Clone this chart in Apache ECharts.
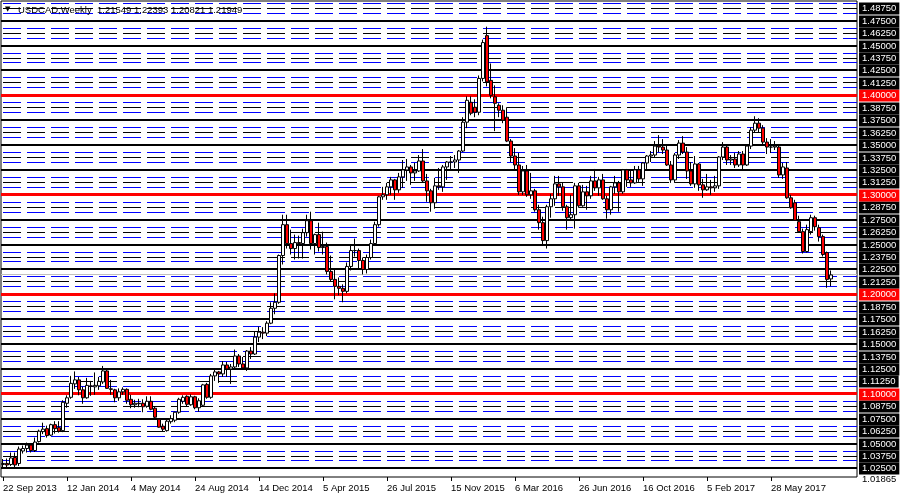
<!DOCTYPE html>
<html><head><meta charset="utf-8">
<script src="https://cdn.jsdelivr.net/npm/echarts@6/dist/echarts.min.js"></script>
<style>html,body{margin:0;padding:0;background:#fff}#c{width:900px;height:500px}</style>
</head><body><div id="c"></div>
<script>
// ---------- data ----------
const startDate = [2013, 8, 22]; // first weekly bar (Sunday)
const futureSlots = 6;           // empty chart-shift area on the right
const tickLabels = ['22 Sep 2013','12 Jan 2014','4 May 2014','24 Aug 2014','14 Dec 2014','5 Apr 2015','26 Jul 2015','15 Nov 2015','6 Mar 2016','26 Jun 2016','16 Oct 2016','5 Feb 2017','28 May 2017'];
const tickEvery = 16;

const open = [1.0290,1.0300,1.0290,1.0360,1.0300,1.0425,1.0450,1.0485,1.0430,1.0520,
1.0620,1.0650,1.0585,1.0690,1.0660,1.0630,1.0905,1.0965,1.1100,1.1140,
1.1040,1.0960,1.1080,1.1070,1.1080,1.1120,1.1230,1.1050,1.1040,1.0960,
1.1020,1.1045,1.0945,1.0890,1.0905,1.0905,1.0875,1.0925,1.0855,1.0745,
1.0675,1.0630,1.0720,1.0735,1.0815,1.0925,1.0975,1.0890,1.0970,1.0860,
1.0885,1.1095,1.0965,1.1180,1.1220,1.1200,1.1290,1.1250,1.1270,1.1380,
1.1300,1.1260,1.1430,1.1400,1.1570,1.1620,1.1610,1.1710,1.1860,1.1920,
1.2390,1.2700,1.2510,1.2460,1.2520,1.2510,1.2620,1.2740,1.2510,1.2600,
1.2470,1.2480,1.2230,1.2150,1.2080,1.2060,1.2030,1.2280,1.2440,1.2440,
1.2340,1.2250,1.2370,1.2510,1.2700,1.2980,1.3000,1.3080,1.3150,1.3050,
1.3180,1.3250,1.3280,1.3220,1.3240,1.3340,1.3140,1.3040,1.2920,1.3090,
1.3080,1.3280,1.3330,1.3330,1.3350,1.3440,1.3730,1.3930,1.3880,1.3830,
1.4170,1.4600,1.4150,1.3985,1.3900,1.3850,1.3780,1.3540,1.3390,1.3300,
1.3030,1.3240,1.3000,1.3040,1.2850,1.2720,1.2540,1.2880,1.2960,1.3110,
1.3080,1.2880,1.2770,1.2800,1.3090,1.2890,1.3030,1.2990,1.3140,1.3070,
1.3150,1.2960,1.2850,1.3080,1.3120,1.3030,1.3250,1.3150,1.3120,1.3250,
1.3160,1.3320,1.3390,1.3400,1.3490,1.3480,1.3450,1.3300,1.3150,1.3400,
1.3520,1.3430,1.3240,1.3110,1.3310,1.3100,1.3050,1.3080,1.3070,1.3090,
1.3380,1.3480,1.3350,1.3360,1.3300,1.3410,1.3300,1.3490,1.3650,1.3720,
1.3670,1.3530,1.3480,1.3480,1.3480,1.3200,1.3270,1.2970,1.2920,1.2730,
1.2630,1.2430,1.2630,1.2770,1.2670,1.2580,1.2420,1.21549];

const high = [1.0345,1.0350,1.0410,1.0410,1.0470,1.0480,1.0510,1.0500,1.0560,1.0640,
1.0710,1.0680,1.0700,1.0725,1.0725,1.0935,1.0985,1.1180,1.1225,1.1170,
1.1070,1.1160,1.1130,1.1215,1.1170,1.1280,1.1250,1.1140,1.1050,1.1055,
1.1065,1.1055,1.0990,1.0940,1.0950,1.0945,1.0975,1.0975,1.0870,1.0755,
1.0700,1.0740,1.0785,1.0820,1.0960,1.0985,1.0985,1.0995,1.0980,1.0955,
1.1100,1.1110,1.1200,1.1250,1.1230,1.1330,1.1320,1.1300,1.1445,1.1400,
1.1370,1.1440,1.1470,1.1630,1.1675,1.1670,1.1730,1.1920,1.2010,1.2400,
1.2800,1.2800,1.2650,1.2600,1.2590,1.2660,1.2800,1.2830,1.2610,1.2720,
1.2630,1.2520,1.2390,1.2260,1.2170,1.2100,1.2320,1.2500,1.2560,1.2460,
1.2370,1.2400,1.2550,1.2730,1.2990,1.3080,1.3120,1.3180,1.3160,1.3220,
1.3350,1.3360,1.3300,1.3320,1.3400,1.3460,1.3210,1.3060,1.3170,1.3270,
1.3300,1.3340,1.3390,1.3400,1.3450,1.3780,1.3990,1.3990,1.3960,1.4200,
1.4560,1.4690,1.4320,1.4100,1.3920,1.3900,1.3880,1.3560,1.3470,1.3420,
1.3290,1.3300,1.3220,1.3060,1.2900,1.2780,1.2900,1.3010,1.3190,1.3190,
1.3120,1.2900,1.3000,1.3120,1.3120,1.3100,1.3090,1.3190,1.3260,1.3180,
1.3210,1.2990,1.3090,1.3190,1.3140,1.3260,1.3260,1.3240,1.3290,1.3290,
1.3330,1.3400,1.3440,1.3540,1.3600,1.3560,1.3500,1.3340,1.3420,1.3550,
1.3590,1.3480,1.3330,1.3390,1.3320,1.3160,1.3210,1.3150,1.3190,1.3390,
1.3530,1.3500,1.3400,1.3420,1.3440,1.3440,1.3510,1.3680,1.3790,1.3770,
1.3700,1.3570,1.3560,1.3540,1.3500,1.3320,1.3330,1.3000,1.2950,1.2790,
1.2660,1.2700,1.2800,1.2790,1.2700,1.2600,1.2430,1.22393];

const low = [1.0255,1.0260,1.0275,1.0260,1.0275,1.0400,1.0410,1.0410,1.0415,1.0510,
1.0595,1.0560,1.0575,1.0600,1.0610,1.0615,1.0860,1.0950,1.1050,1.0985,
1.0900,1.0950,1.0980,1.0990,1.1040,1.1100,1.1050,1.0990,1.0915,1.0930,
1.0990,1.0900,1.0855,1.0860,1.0865,1.0815,1.0860,1.0835,1.0740,1.0660,
1.0620,1.0620,1.0700,1.0715,1.0800,1.0900,1.0870,1.0880,1.0845,1.0820,
1.0870,1.0950,1.0950,1.1130,1.1110,1.1170,1.1170,1.1100,1.1240,1.1270,
1.1240,1.1230,1.1350,1.1390,1.1520,1.1550,1.1580,1.1700,1.1800,1.1905,
1.2300,1.2460,1.2400,1.2350,1.2360,1.2360,1.2580,1.2450,1.2400,1.2430,
1.2400,1.2200,1.2130,1.1950,1.1990,1.1920,1.2010,1.2240,1.2380,1.2250,
1.2200,1.2210,1.2350,1.2500,1.2680,1.2950,1.2950,1.3000,1.2950,1.3020,
1.3070,1.3140,1.3100,1.3140,1.3230,1.3120,1.2930,1.2830,1.2860,1.3050,
1.3030,1.3150,1.3250,1.3270,1.3220,1.3430,1.3670,1.3800,1.3780,1.3800,
1.4140,1.4090,1.3970,1.3640,1.3780,1.3720,1.3530,1.3330,1.3240,1.3000,
1.3000,1.2980,1.2960,1.2830,1.2650,1.2500,1.2460,1.2770,1.2890,1.2990,
1.2840,1.2650,1.2740,1.2660,1.2870,1.2880,1.2850,1.2960,1.3040,1.2990,
1.2950,1.2760,1.2800,1.3010,1.2830,1.3010,1.3080,1.3080,1.3110,1.3130,
1.3090,1.3260,1.3330,1.3370,1.3430,1.3410,1.3290,1.3120,1.3120,1.3360,
1.3410,1.3160,1.3090,1.3070,1.3040,1.2970,1.3040,1.3000,1.3030,1.3060,
1.3350,1.3300,1.3300,1.3270,1.3280,1.3250,1.3290,1.3460,1.3630,1.3630,
1.3500,1.3410,1.3420,1.3450,1.3170,1.3160,1.2960,1.2860,1.2740,1.2620,
1.2410,1.2420,1.2600,1.2640,1.2530,1.2380,1.2066,1.20821];

const close = [1.0300,1.0285,1.0355,1.0285,1.0445,1.0450,1.0485,1.0430,1.0515,1.0625,
1.0645,1.0580,1.0690,1.0650,1.0625,1.0915,1.0960,1.1105,1.1140,1.1040,
1.0960,1.1085,1.1075,1.1085,1.1125,1.1230,1.1055,1.1045,1.0960,1.1020,
1.1045,1.0935,1.0890,1.0905,1.0900,1.0870,1.0925,1.0845,1.0765,1.0665,
1.0645,1.0725,1.0750,1.0815,1.0945,1.0965,1.0895,1.0970,1.0860,1.0930,
1.1090,1.0965,1.1180,1.1220,1.1200,1.1290,1.1250,1.1270,1.1380,1.1300,
1.1260,1.1430,1.1400,1.1570,1.1620,1.1610,1.1710,1.1860,1.1920,1.2390,
1.2700,1.2510,1.2460,1.2520,1.2510,1.2620,1.2740,1.2510,1.2600,1.2470,
1.2480,1.2230,1.2150,1.2080,1.2060,1.2030,1.2280,1.2440,1.2440,1.2340,
1.2250,1.2370,1.2510,1.2700,1.2980,1.3000,1.3080,1.3150,1.3050,1.3180,
1.3250,1.3280,1.3220,1.3240,1.3340,1.3140,1.3040,1.2920,1.3090,1.3080,
1.3280,1.3330,1.3330,1.3350,1.3440,1.3730,1.3950,1.3820,1.3830,1.4170,
1.4530,1.4135,1.4000,1.3920,1.3850,1.3750,1.3540,1.3390,1.3300,1.3030,
1.3240,1.3000,1.3040,1.2850,1.2720,1.2540,1.2880,1.2960,1.3110,1.3080,
1.2880,1.2770,1.2800,1.3090,1.2890,1.3030,1.2990,1.3140,1.3070,1.3150,
1.2960,1.2850,1.3080,1.3120,1.3030,1.3250,1.3150,1.3120,1.3250,1.3160,
1.3320,1.3390,1.3400,1.3490,1.3480,1.3450,1.3300,1.3150,1.3400,1.3520,
1.3430,1.3240,1.3110,1.3310,1.3100,1.3050,1.3080,1.3070,1.3090,1.3380,
1.3480,1.3350,1.3360,1.3300,1.3410,1.3300,1.3490,1.3650,1.3720,1.3670,
1.3530,1.3480,1.3480,1.3490,1.3200,1.3280,1.2970,1.2870,1.2745,1.2630,
1.2430,1.2650,1.2770,1.2680,1.2580,1.2400,1.2150,1.21949];

const priceTicks = [1.025,1.0375,1.05,1.0625,1.075,1.0875,1.1,1.1125,1.125,1.1375,
1.15,1.1625,1.175,1.1875,1.2,1.2125,1.225,1.2375,1.25,1.2625,1.275,1.2875,1.3,1.3125,
1.325,1.3375,1.35,1.3625,1.375,1.3875,1.4,1.4125,1.425,1.4375,1.45,1.4625,1.475,1.4875];
const blueOffset = 0.005;       // blue dashed lines around each half-step level
const bidPrice = 1.21949;
const bottomPriceLabel = '1.01865';
const titleText = 'USDCAD,Weekly  1.21549 1.22393 1.20821 1.21949';

// ---------- build ----------
const MON = ['Jan','Feb','Mar','Apr','May','Jun','Jul','Aug','Sep','Oct','Nov','Dec'];
const nSlots = open.length + futureSlots;
const categories = [];
for (let i = 0; i < nSlots; i++) {
  const d = new Date(Date.UTC(startDate[0], startDate[1], startDate[2] + 7 * i));
  categories.push(d.getUTCDate() + ' ' + MON[d.getUTCMonth()] + ' ' + d.getUTCFullYear());
}
const candles = open.map((o, i) => [o, close[i], low[i], high[i]]);

const FONT = '"Liberation Sans", Arial, sans-serif';
const isMult = (v, step) => Math.abs(Math.round(v / step) * step - v) < 1e-7;

// kind: 0 red 0.1 level, 1 solid black 0.025 level, 2 dashed black half level, 3 blue dashed, 4 bid line
const levelData = [];
priceTicks.forEach(v => {
  if (isMult(v, 0.1)) levelData.push([0, v, 0]);
  else if (isMult(v, 0.025)) levelData.push([0, v, 1]);
  else {
    levelData.push([0, v, 2]);
    levelData.push([0, +(v - blueOffset).toFixed(5), 3]);
    levelData.push([0, +(v + blueOffset).toFixed(5), 3]);
  }
});
levelData.push([0, bidPrice, 4]);

const KIND = [
  { stroke: '#ff0000', w: 3, dash: null, label: '#ff0000' },
  { stroke: '#000000', w: 2, dash: null, label: '#000000' },
  { stroke: '#000000', w: 1, dash: [18, 6], label: '#000000' },
  { stroke: '#0000ff', w: 1, dash: [18, 6], label: null },
  { stroke: '#c0c0c0', w: 1, dash: null, label: null }
];

function renderLevel(params, api) {
  const v = api.value(1);
  const k = KIND[api.value(2)];
  const cs = params.coordSys;
  const y = api.coord([0, v])[1];
  const yc = (k.w % 2 === 1) ? Math.floor(y) + 0.5 : Math.round(y);
  const x1 = cs.x + (k.dash ? 2 : 0);
  const children = [{
    type: 'line', silent: true,
    shape: { x1: x1, y1: yc, x2: cs.x + cs.width, y2: yc },
    style: { stroke: k.stroke, lineWidth: k.w, lineDash: k.dash || null }
  }];
  if (k.label) {
    children.push({
      type: 'text', silent: true, z2: 10,
      x: cs.x + cs.width + 2, y: Math.round(y) + 0.5,
      style: {
        text: v.toFixed(5), fill: '#ffffff', backgroundColor: k.label,
        padding: [1, 3, 1, 3], font: '9.5px ' + FONT, align: 'left', verticalAlign: 'middle'
      }
    });
  }
  return { type: 'group', children: children };
}

const chart = echarts.init(document.getElementById('c'), null, { renderer: 'canvas' });
chart.setOption({
  animation: false,
  backgroundColor: '#ffffff',
  grid: { left: 1, right: 43, top: 1, bottom: 23, show: true, borderColor: '#000', borderWidth: 1, backgroundColor: 'transparent' },
  xAxis: {
    type: 'category', data: categories, boundaryGap: true,
    axisLine: { show: false },
    axisTick: { show: true, alignWithLabel: true, length: 4, lineStyle: { color: '#000' },
      interval: (idx) => idx % tickEvery === 0 && idx / tickEvery < tickLabels.length },
    axisLabel: { show: true, align: 'left', margin: 6, color: '#000', fontSize: 9.5, fontFamily: FONT,
      interval: (idx) => idx % tickEvery === 0 && idx / tickEvery < tickLabels.length,
      formatter: (val, idx) => tickLabels[idx / tickEvery] || '' },
    splitLine: { show: false }
  },
  yAxis: {
    type: 'value', position: 'right', min: 1.0164, max: 1.4948, scale: true,
    axisLine: { show: false }, axisTick: { show: false }, axisLabel: { show: false }, splitLine: { show: false }
  },
  graphic: [
    { type: 'text', left: 5, top: 6, z: 100, style: { text: '▼', fill: '#000', font: '7px "DejaVu Sans"' } },
    { type: 'text', left: 18, top: 5, z: 100, style: { text: titleText, fill: '#000', font: '9.5px ' + FONT } },
    { type: 'text', left: 862, top: 474, z: 100, style: { text: bottomPriceLabel, fill: '#000', font: '9.5px ' + FONT } }
  ],
  series: [
    {
      type: 'custom', data: levelData, renderItem: renderLevel, z: 1, clip: false, silent: true,
      encode: { x: 0, y: 1 }
    },
    {
      type: 'candlestick', data: candles, z: 3, barWidth: 3,
      itemStyle: { color: '#ffffff', color0: '#ff0000', borderColor: '#000000', borderColor0: '#000000', borderWidth: 1 }
    }
  ]
});
</script></body></html>
